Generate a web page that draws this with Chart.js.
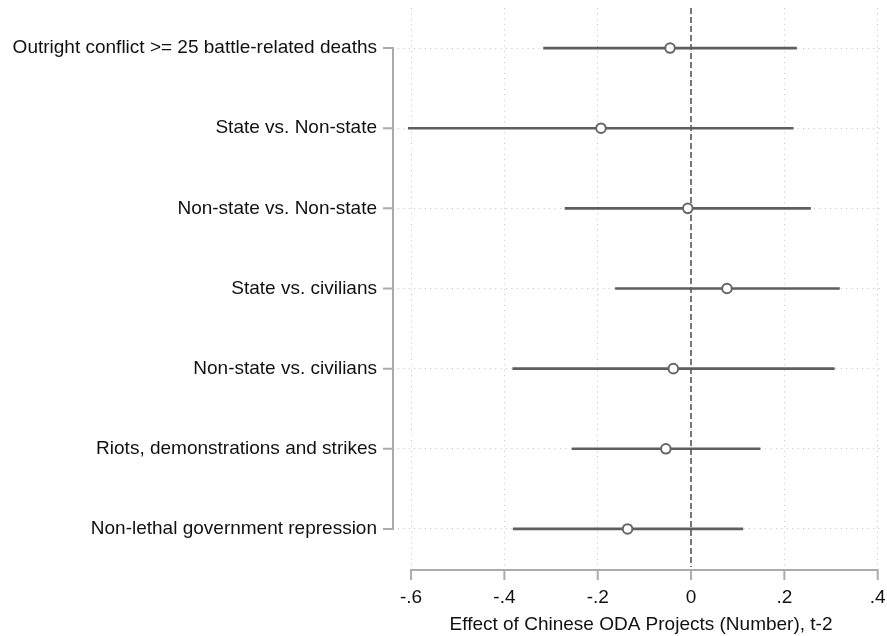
<!DOCTYPE html>
<html>
<head>
<meta charset="utf-8">
<script src="https://cdn.jsdelivr.net/npm/chart.js@4/dist/chart.umd.min.js"></script>
<style>
  html, body { margin: 0; padding: 0; background: #ffffff; }
  canvas { display: block; }
</style>
</head>
<body>
<canvas id="chart" width="887" height="636"></canvas>
<script>
// Outcome categories (top to bottom)
const categories = [
  'Outright conflict >= 25 battle-related deaths',
  'State vs. Non-state',
  'Non-state vs. Non-state',
  'State vs. civilians',
  'Non-state vs. civilians',
  'Riots, demonstrations and strikes',
  'Non-lethal government repression'
];
// Point estimates and confidence bounds
const estimates = [-0.045, -0.193, -0.007, 0.077, -0.038, -0.054, -0.136];
const ciLower   = [-0.316, -0.606, -0.270, -0.162, -0.382, -0.255, -0.381];
const ciUpper   = [ 0.226,  0.219,  0.256,  0.318,  0.307,  0.148,  0.111];
// X axis ticks and their labels
const xTicks = [-0.6, -0.4, -0.2, 0, 0.2, 0.4];
const xTickLabels = ['-.6', '-.4', '-.2', '0', '.2', '.4'];
const xTitle = 'Effect of Chinese ODA Projects (Number), t-2';

const FONT = '"Liberation Sans", Arial, sans-serif';
const AXIS_GRAY = '#ababab';
const GRID_GRAY = '#c4c4c4';

// Stata-style axes: y bracket, x axis line with outward ticks, dashed zero reference
const axesPlugin = {
  id: 'stataAxes',
  beforeDatasetsDraw(chart) {
    const {ctx, chartArea, scales: {x}} = chart;
    const zx = Math.round(x.getPixelForValue(0));
    ctx.save();
    ctx.strokeStyle = '#777777';
    ctx.lineWidth = 2;
    ctx.setLineDash([6, 3]);
    ctx.beginPath();
    ctx.moveTo(zx, chartArea.top);
    ctx.lineTo(zx, chartArea.bottom - 2);
    ctx.stroke();
    ctx.restore();
  },
  afterDraw(chart) {
    const {ctx, chartArea, scales: {x, y}} = chart;
    ctx.save();
    ctx.strokeStyle = AXIS_GRAY;
    ctx.lineWidth = 2;
    ctx.lineCap = 'butt';
    // y axis
    const ax = chartArea.left - 5;
    const yTop = y.getPixelForValue(0);
    const yBot = y.getPixelForValue(categories.length - 1);
    ctx.beginPath();
    ctx.moveTo(ax, yTop - 1);
    ctx.lineTo(ax, yBot + 1);
    categories.forEach((c, i) => {
      const py = y.getPixelForValue(i);
      ctx.moveTo(ax - 10, py);
      ctx.lineTo(ax + 1, py);
    });
    ctx.stroke();
    // x axis
    const ay = chartArea.bottom + 1;
    const xl = x.getPixelForValue(xTicks[0]);
    const xr = x.getPixelForValue(xTicks[xTicks.length - 1]);
    ctx.beginPath();
    ctx.moveTo(xl - 1, ay);
    ctx.lineTo(xr + 1, ay);
    xTicks.forEach(v => {
      const px = x.getPixelForValue(v);
      ctx.moveTo(px, ay - 1);
      ctx.lineTo(px, ay + 10);
    });
    ctx.stroke();
    ctx.restore();
  }
};

new Chart(document.getElementById('chart'), {
  type: 'bar',
  data: {
    labels: categories,
    datasets: [
      {
        type: 'bar',
        indexAxis: 'y',
        data: categories.map((c, i) => [ciLower[i], ciUpper[i]]),
        backgroundColor: '#5e5e5e',
        borderWidth: 0,
        barThickness: 2,
        order: 2
      },
      {
        type: 'scatter',
        data: categories.map((c, i) => ({x: estimates[i], y: c})),
        pointStyle: 'circle',
        pointRadius: 4.8,
        pointBorderWidth: 2,
        pointBorderColor: '#666666',
        pointBackgroundColor: '#ffffff',
        order: 1
      }
    ]
  },
  options: {
    indexAxis: 'y',
    responsive: false,
    animation: false,
    devicePixelRatio: 1,
    layout: { autoPadding: false, padding: { top: 8, right: 3, bottom: 0, left: 0 } },
    plugins: {
      legend: { display: false },
      tooltip: { enabled: false }
    },
    scales: {
      x: {
        type: 'linear',
        position: 'bottom',
        min: -0.628,
        max: 0.4135,
        afterBuildTicks(scale) {
          scale.ticks = xTicks.map(v => ({value: v}));
        },
        afterFit(scale) {
          scale.height = 67;
          scale.paddingLeft = 0;
          scale.paddingRight = 0;
        },
        border: { display: false, dash: [1, 4.4] },
        grid: {
          color: GRID_GRAY,
          lineWidth: 1,
          drawTicks: false
        },
        ticks: {
          padding: 17,
          color: '#111111',
          font: { family: FONT, size: 19 },
          callback: (v, i) => xTickLabels[i]
        },
        title: {
          display: true,
          text: xTitle,
          color: '#111111',
          font: { family: FONT, size: 19 },
          padding: { top: 0, bottom: 0 }
        }
      },
      y: {
        type: 'category',
        position: 'left',
        offset: true,
        afterFit(scale) {
          scale.width = 398;
          scale.paddingTop = 0;
          scale.paddingBottom = 0;
        },
        border: { display: false, dash: [1, 4.4] },
        grid: {
          offset: false,
          color: GRID_GRAY,
          lineWidth: 1,
          drawTicks: false
        },
        ticks: {
          padding: 21,
          color: '#111111',
          font: { family: FONT, size: 19 },
          autoSkip: false
        }
      }
    }
  },
  plugins: [axesPlugin]
});
</script>
</body>
</html>
